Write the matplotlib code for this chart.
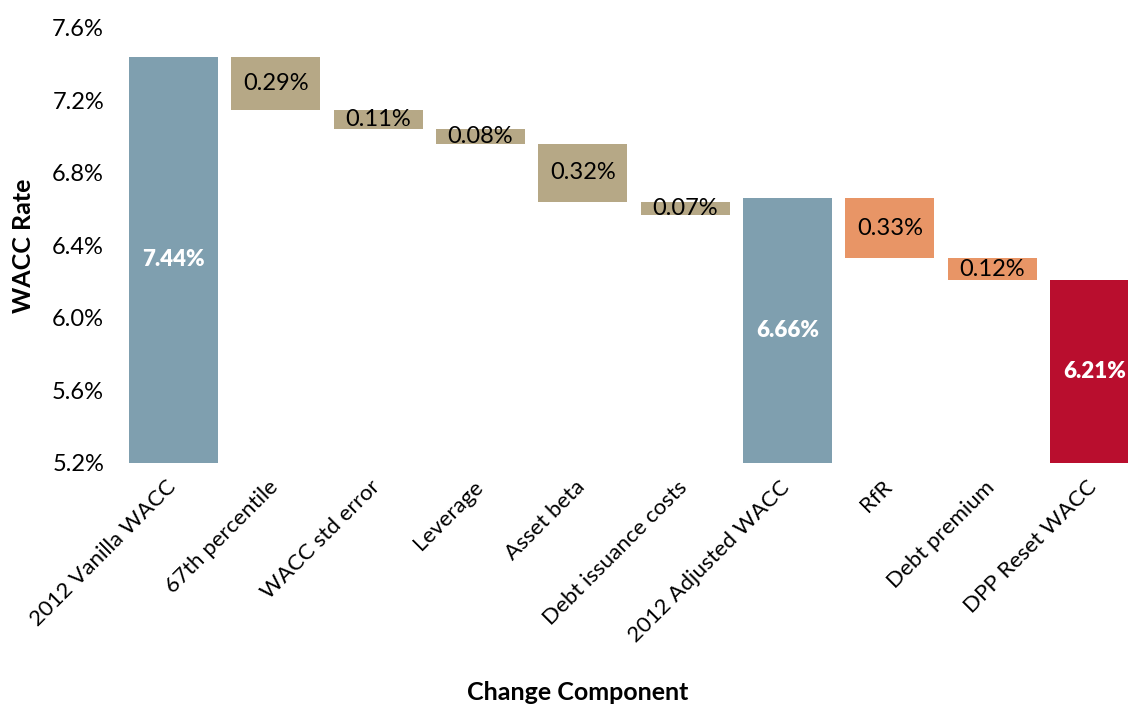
import matplotlib
matplotlib.use("Agg")
import matplotlib.pyplot as plt
import matplotlib.transforms as mtransforms

plt.rcParams['font.family'] = ['Lato', 'DejaVu Sans']

categories = ["2012 Vanilla WACC", "67th percentile", "WACC std error", "Leverage",
              "Asset beta", "Debt issuance costs", "2012 Adjusted WACC", "RfR",
              "Debt premium", "DPP Reset WACC"]
# totals are given as levels, the rest as step changes down
values = [7.44, 0.29, 0.11, 0.08, 0.32, 0.07, 6.66, 0.33, 0.12, 6.21]
kinds = ["total", "step", "step", "step", "step", "step", "total", "step", "step", "total"]
colors = ["#7f9faf", "#b6a886", "#b6a886", "#b6a886", "#b6a886", "#b6a886",
          "#7f9faf", "#e89566", "#e89566", "#b90e2e"]
yticks = [5.2, 5.6, 6.0, 6.4, 6.8, 7.2, 7.6]

base = 5.2
fig = plt.figure(figsize=(11.28, 7.07), dpi=100)
ax = fig.add_axes([118 / 1128, (707 - 463) / 707, 1 - 118 / 1128, (463 - 28) / 707])

level = None
for i, (v, k, c) in enumerate(zip(values, kinds, colors)):
    if k == "total":
        ax.bar(i, v - base, bottom=base, width=0.87, color=c)
        ax.text(i, (v + base) / 2, f"{v:.2f}%", ha="center", va="center",
                color="white", fontweight="heavy", fontsize=16)
        level = v
    else:
        bottom = level - v
        ax.bar(i, v, bottom=bottom, width=0.87, color=c)
        ax.text(i, bottom + v / 2, f"{v:.2f}%", ha="center", va="center",
                color="black", fontsize=17)
        level = bottom

ax.set_ylim(5.2, 7.6)
ax.set_xlim(-(173.5 - 118) / 102.33, (1128 - 173.5) / 102.33)
ax.set_yticks(yticks)
ax.set_yticklabels([f"{t:.1f}%" for t in yticks], fontsize=17)
ax.set_xticks(range(len(categories)))
ax.set_xticklabels(categories, rotation=45, ha="right", va="top",
                   rotation_mode="anchor", fontsize=16)
ax.tick_params(length=0, pad=10)
shift = mtransforms.ScaledTranslation(-8 / 100, 0, fig.dpi_scale_trans)
for lbl in ax.get_xticklabels():
    lbl.set_transform(lbl.get_transform() + shift)
for s in ax.spines.values():
    s.set_visible(False)

ax.set_ylabel("WACC Rate", fontweight="bold", fontsize=18, labelpad=12)
ax.set_xlabel("Change Component", fontweight="bold", fontsize=18, va="center")
ax.xaxis.set_label_coords((578 - 118) / (1128 - 118), -(692 - 463) / 435)

fig.savefig("out.png", dpi=100)
